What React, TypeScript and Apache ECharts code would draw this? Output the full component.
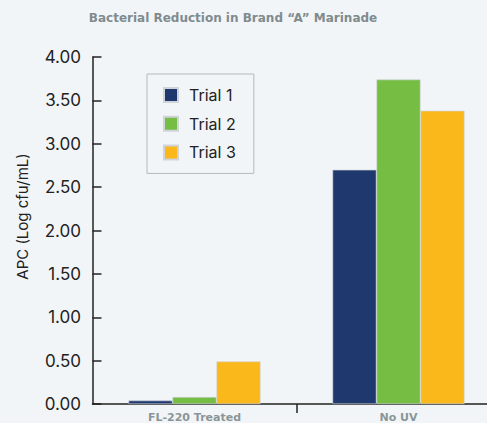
import React, { useEffect, useRef } from "react";
import * as echarts from "echarts";

const categories = ["FL-220 Treated", "No UV"];
const seriesNames = ["Trial 1", "Trial 2", "Trial 3"];
const trial1 = [0.04, 2.70];
const trial2 = [0.08, 3.74];
const trial3 = [0.49, 3.38];
const colors = ["#1f396f", "#76bd43", "#fbb81b"];
const title = "Bacterial Reduction in Brand \u201CA\u201D Marinade";
const yName = "APC (Log cfu/mL)";

export default function App() {
  const ref = useRef<HTMLDivElement>(null);
  useEffect(() => {
    if (!ref.current) return;
    const chart = echarts.init(ref.current, undefined, { renderer: "svg" });
    const values = [trial1, trial2, trial3];
    chart.setOption({
      animation: false,
      backgroundColor: "#f2f5f7",
      title: {
        text: title,
        left: 228,
        textAlign: "center",
        top: 7,
        textStyle: {
          fontFamily: "DejaVu Sans",
          fontWeight: "bold",
          fontSize: 12,
          color: "#7f8b8e",
        },
      },
      legend: {
        orient: "vertical",
        left: 147,
        top: 74,
        padding: [13, 18, 13, 16],
        itemWidth: 14,
        itemHeight: 14,
        itemGap: 12.7,
        borderColor: "#b3b9bd",
        borderWidth: 1,
        icon: "rect",
        textStyle: { fontFamily: "Inter", fontSize: 16, color: "#222", padding: [0, 0, 0, 6] },
        data: seriesNames,
      },
      grid: { left: 92.5, top: 57, bottom: 19, width: 408, outerBoundsMode: "none", containLabel: false },
      xAxis: [
        {
          type: "category",
          data: categories,
          axisLine: { lineStyle: { color: "#222", width: 1.5 } },
          axisTick: { show: false },
          axisLabel: {
            margin: 8,
            fontFamily: "DejaVu Sans",
            fontWeight: "bold",
            fontSize: 11,
            color: "#8a9598",
          },
        },
        {
          type: "value",
          position: "bottom",
          min: 0,
          max: 2,
          interval: 1,
          axisLine: { show: false },
          axisLabel: { show: false },
          splitLine: { show: false },
          axisTick: {
            show: true,
            length: 9,
            customValues: [1],
            lineStyle: { color: "#222", width: 1.5 },
          },
        },
      ],
      yAxis: {
        type: "value",
        min: 0,
        max: 4,
        interval: 0.5,
        offset: 4.5,
        name: yName,
        nameLocation: "middle",
        nameGap: 58,
        nameTextStyle: {
          fontFamily: "Inter",
          fontSize: 15,
          color: "#222",
          padding: [0, 0, 0, 28],
        },
        splitLine: { show: false },
        axisLine: { show: true, lineStyle: { color: "#222", width: 1.5 } },
        axisTick: { show: true, inside: true, length: 9, lineStyle: { color: "#222", width: 1.5 } },
        axisLabel: {
          margin: 7,
          fontFamily: "Inter",
          fontSize: 17,
          color: "#222",
          formatter: (v: number) => v.toFixed(2),
        },
      },
      series: seriesNames.map((name, i) => ({
        name,
        type: "bar",
        xAxisIndex: 0,
        data: values[i],
        barGap: "0%",
        barCategoryGap: "35.3%",
        itemStyle: { color: colors[i], borderColor: "#cfd4da", borderWidth: 0.6 },
      })),
    });
    return () => chart.dispose();
  }, []);
  return <div ref={ref} style={{ position: "fixed", left: 0, top: 0, width: 487, height: 423 }} />;
}
